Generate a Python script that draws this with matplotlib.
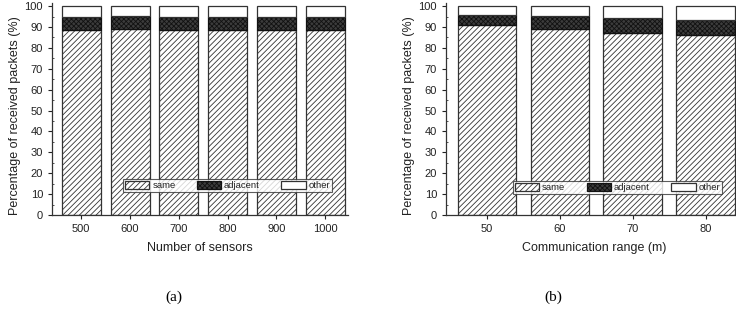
import matplotlib
matplotlib.use('Agg')
import matplotlib.pyplot as plt
import numpy as np

plt.rcParams['font.family'] = ['Liberation Sans', 'DejaVu Sans']
plt.rcParams['hatch.linewidth'] = 0.6

##### Data ######
sensors = ['500', '600', '700', '800', '900', '1000']
same_a = [88.5, 89.1, 88.5, 88.5, 88.7, 88.5]
adjacent_a = [6.2, 6.3, 6.3, 6.3, 6.3, 6.3]

ranges = ['50', '60', '70', '80']
same_b = [90.9, 89.0, 87.2, 86.1]
adjacent_b = [4.8, 6.2, 6.9, 7.5]

TEXT = '#222222'
EDGE = '#333333'


def stacked(ax, labels, same, adjacent, xlim, legend_box):
    same = np.array(same)
    adjacent = np.array(adjacent)
    other = 100 - same - adjacent
    x = np.arange(len(labels))
    b1 = ax.bar(x, same, 0.8, color='white', edgecolor=EDGE, hatch='//////',
                linewidth=0.9, label='same')
    b2 = ax.bar(x, adjacent, 0.8, bottom=same, color='#3c3c3c', edgecolor='#111111',
                hatch='xxxxxxx', linewidth=0.9, label='adjacent')
    b3 = ax.bar(x, other, 0.8, bottom=same + adjacent, color='white',
                edgecolor=EDGE, linewidth=0.9, label='other')

    ax.set_xlim(*xlim)
    ax.set_ylim(0, 101.5)
    ax.set_xticks(x)
    ax.set_xticklabels(labels)
    ax.set_yticks(np.arange(0, 101, 10))
    ax.set_yticks(np.arange(5, 100, 10), minor=True)
    ax.tick_params(axis='both', which='major', labelsize=8, colors=TEXT,
                   length=3, width=0.8)
    ax.tick_params(axis='y', which='minor', direction='in', length=1.5,
                   width=0.6, colors=EDGE)
    ax.spines['top'].set_visible(False)
    ax.spines['right'].set_visible(False)
    for s in ('left', 'bottom'):
        ax.spines[s].set_color(EDGE)
        ax.spines[s].set_linewidth(0.9)
    ax.set_ylabel('Percentage of received packets (%)', fontsize=9,
                  color=TEXT)
    ax.yaxis.set_label_coords(-0.105, 0.47)

    leg = ax.legend(handles=[b1, b2, b3], ncol=3, loc='lower left',
                    bbox_to_anchor=legend_box, mode='expand', fontsize=6.8,
                    frameon=True, fancybox=False, borderpad=0.2,
                    handlelength=2.6, handleheight=0.85, handletextpad=0.3,
                    columnspacing=1.0, borderaxespad=0)
    leg.get_frame().set_edgecolor(EDGE)
    leg.get_frame().set_linewidth(0.8)
    for t in leg.get_texts():
        t.set_color(TEXT)


fig = plt.figure(figsize=(7.36, 3.24), dpi=100)

ax1 = fig.add_axes([52 / 736, 1 - 215 / 324, 296 / 736, 212 / 324])
stacked(ax1, sensors, same_a, adjacent_a, (-0.6, 5.47),
        (0.24, 0.108, 0.706, 0.071))
ax1.set_xlabel('Number of sensors', fontsize=9, color=TEXT, labelpad=6)

ax2 = fig.add_axes([446 / 736, 1 - 215 / 324, 296 / 736, 212 / 324])
stacked(ax2, ranges, same_b, adjacent_b, (-0.56, 3.5),
        (0.226, 0.099, 0.706, 0.068))
ax2.set_xlabel('Communication range (m)', fontsize=9, color=TEXT, labelpad=6)

fig.text(174 / 736, 1 - 297 / 324, '(a)', fontsize=11, family='Liberation Serif',
         ha='center', va='center', color='black')
fig.text(553 / 736, 1 - 297 / 324, '(b)', fontsize=11, family='Liberation Serif',
         ha='center', va='center', color='black')

fig.savefig('out.png', dpi=100)
